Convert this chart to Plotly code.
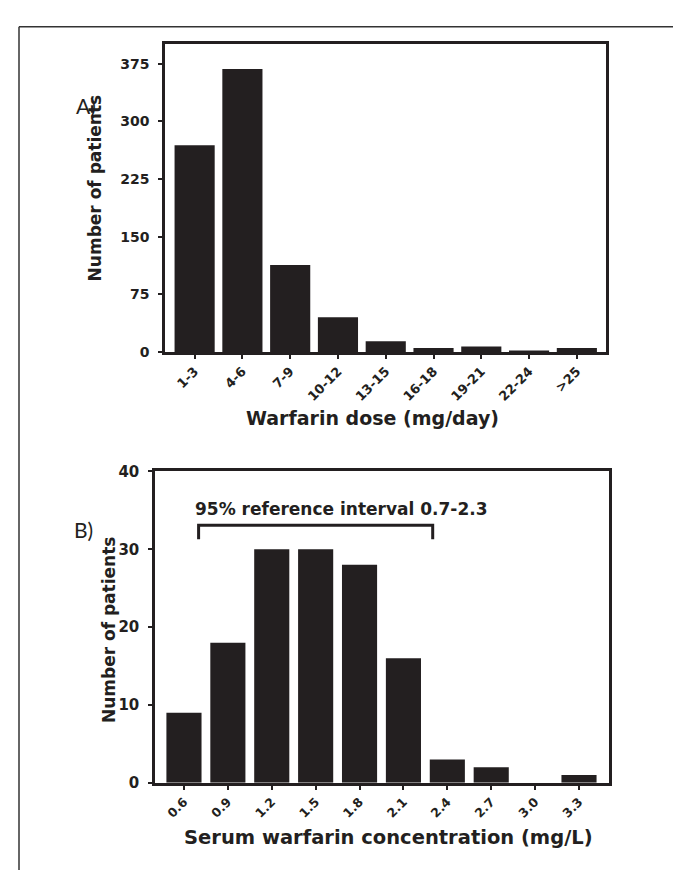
import plotly.graph_objects as go

W, H = 681, 871

# ---- data ----
dose_cats = ["1-3", "4-6", "7-9", "10-12", "13-15", "16-18", "19-21", "22-24", ">25"]
dose_counts = [269, 368, 113, 45, 14, 5, 7, 1, 5]

conc_vals = [0.6, 0.9, 1.2, 1.5, 1.8, 2.1, 2.4, 2.7, 3.0, 3.3]
conc_counts = [9, 18, 30, 30, 28, 16, 3, 2, 0, 1]

ref_low, ref_high = 0.7, 2.3
ref_label = "95% reference interval 0.7-2.3"

dose_yticks = [0, 75, 150, 225, 300, 375]
conc_yticks = [0, 10, 20, 30, 40]

INK = "#231f20"
FONT = "DejaVu Sans, Liberation Sans, Arial, sans-serif"


def fx(p):
    return p / W


def fy(p):
    return 1 - p / H


fig = go.Figure()
fig.add_trace(go.Bar(x=dose_cats, y=dose_counts, xaxis="x", yaxis="y",
                     marker=dict(color=INK, line=dict(width=0)), width=0.84,
                     showlegend=False))
fig.add_trace(go.Bar(x=conc_vals, y=conc_counts, xaxis="x2", yaxis="y2",
                     marker=dict(color=INK, line=dict(width=0)), width=0.24,
                     showlegend=False))


def tf(size):
    return dict(family=FONT, size=size, color=INK, weight="bold")


axis_common = dict(showline=True, mirror=True, linewidth=2.5, linecolor=INK,
                   ticks="outside", ticklen=4, tickwidth=1.5, tickcolor=INK,
                   showgrid=False, zeroline=False)

fig.update_layout(
    width=W, height=H,
    margin=dict(l=0, r=0, t=0, b=0),
    paper_bgcolor="white", plot_bgcolor="white",
    xaxis=dict(domain=[fx(157), fx(598)], anchor="y", type="category",
               range=[-0.62, 8.61], tickangle=-45, tickfont=tf(13), **axis_common),
    yaxis=dict(domain=[fy(342), fy(28)], anchor="x", range=[0, 400],
               tickvals=dose_yticks, tickfont=tf(14), ticklabelstandoff=6, **axis_common),
    xaxis2=dict(domain=[fx(147), fx(601)], anchor="y2", range=[0.402, 3.505],
                tickvals=conc_vals, tickformat=".1f", tickangle=-45,
                tickfont=tf(12.5), **axis_common),
    yaxis2=dict(domain=[fy(782), fy(464)], anchor="x2", range=[0, 40],
                tickvals=conc_yticks, tickfont=tf(15), ticklabelstandoff=6, **axis_common),
)

panelfont = dict(family="Lato, Open Sans, sans-serif", size=21, color=INK)

ann = [
    dict(text="A)", x=fx(66), y=fy(90), xref="paper", yref="paper", showarrow=False,
         font=panelfont, xanchor="left", yanchor="middle"),
    dict(text="B)", x=fx(64), y=fy(523), xref="paper", yref="paper", showarrow=False,
         font=panelfont, xanchor="left", yanchor="middle"),
    dict(text="Warfarin dose (mg/day)", x=fx(365), y=fy(409), xref="paper", yref="paper",
         showarrow=False, font=tf(19), xanchor="center", yanchor="middle"),
    dict(text="Serum warfarin concentration (mg/L)", x=fx(380), y=fy(838), xref="paper",
         yref="paper", showarrow=False, font=tf(19.5), xanchor="center", yanchor="middle"),
    dict(text="Number of patients", x=fx(87), y=fy(175), xref="paper", yref="paper",
         showarrow=False, font=tf(17), textangle=-90, xanchor="center", yanchor="middle"),
    dict(text="Number of patients", x=fx(101), y=fy(625), xref="paper", yref="paper",
         showarrow=False, font=tf(17), textangle=-90, xanchor="center", yanchor="middle"),
    dict(text=ref_label, x=0.66, y=35.2, xref="x2", yref="y2", showarrow=False,
         font=tf(17), xanchor="left", yanchor="middle"),
]
fig.update_layout(annotations=ann)

shapes = [
    # bracket for reference interval
    dict(type="path", xref="x2", yref="y2",
         path=f"M {ref_low},31.3 L {ref_low},33.1 L {ref_high},33.1 L {ref_high},31.3",
         line=dict(color=INK, width=3)),
    # outer frame (top and left)
    dict(type="line", xref="paper", yref="paper", x0=fx(11), x1=1, y0=fy(10), y1=fy(10),
         line=dict(color="#333333", width=1.5)),
    dict(type="line", xref="paper", yref="paper", x0=fx(11), x1=fx(11), y0=fy(10), y1=0,
         line=dict(color="#333333", width=1.5)),
]
fig.update_layout(shapes=shapes)

fig.write_html("out.html")
